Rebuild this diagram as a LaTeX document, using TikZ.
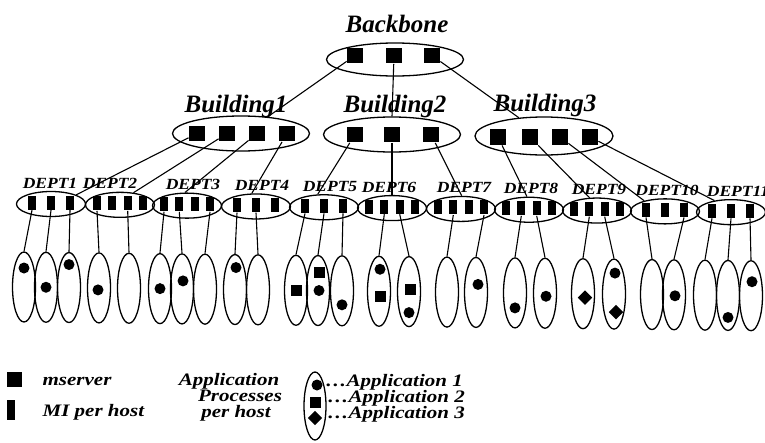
\documentclass[tikz,border=0pt]{standalone}
\usepackage{fontspec}
\setmainfont{Liberation Serif}
\newfontfamily\widedept[FakeStretch=1.13]{Liberation Serif}
\newfontfamily\widekey[FakeStretch=1.2]{Liberation Serif}
\usetikzlibrary{shapes.geometric,calc}
\begin{document}
\begin{tikzpicture}[x=1pt,y=-1pt,
  line width=1.3pt,
  ring/.style={draw, ellipse, inner sep=0pt},
  top/.style={ring, minimum width=137pt, minimum height=35pt},
  dept/.style={ring, minimum width=69pt, minimum height=25pt},
  host/.style={ring, minimum width=23pt, minimum height=70pt},
  srv/.style={fill, rectangle, draw=none, inner sep=0pt, minimum size=15.5pt},
  mi/.style={fill, rectangle, draw=none, inner sep=0pt, minimum width=8pt, minimum height=14pt},
  appA/.style={fill, circle, draw=none, inner sep=0pt, minimum size=11pt},
  appB/.style={fill, rectangle, draw=none, inner sep=0pt, minimum size=11pt},
  appC/.style={fill, diamond, draw=none, inner sep=0pt, minimum size=15pt},
  link/.style={draw, line width=1.1pt},
  big/.style={font=\fontsize{25}{25}\selectfont\bfseries\itshape, inner sep=0pt, anchor=base},
  small/.style={font=\widedept\fontsize{15.5}{15.5}\selectfont\bfseries\itshape, inner sep=0pt, anchor=base},
  legend/.style={font=\widekey\fontsize{17.5}{17.5}\selectfont\bfseries\itshape, inner sep=0pt, anchor=base west},
]
\useasboundingbox (0,0) rectangle (765,442);

% ---------- backbone ----------
\node[big] (bbl) at (397,32) {Backbone};
\node[top, minimum height=33pt] (bb) at (395,59.5) {};
\node[srv] (bb1) at (355,55.5) {};
\node[srv] (bb2) at (394,55.5) {};
\node[srv] (bb3) at (432,55.5) {};

% ---------- buildings ----------
\node[big] (b1l) at (236,112) {Building1};
\node[big] (b2l) at (395,112) {Building2};
\node[big] (b3l) at (545,111) {Building3};
\node[top] (b1) at (241,133.5) {};
\node[top] (b2) at (392,134.5) {};
\node[top, minimum width=138pt, minimum height=38pt] (b3) at (544,136) {};
\foreach \j/\x in {1/197,2/227,3/257,4/287} \node[srv] (b1s\j) at (\x,133.5) {};
\foreach \j/\x in {1/355,2/392,3/431} \node[srv] (b2s\j) at (\x,134.5) {};
\foreach \j/\x in {1/498,2/530,3/560,4/590} \node[srv] (b3s\j) at (\x,137) {};

% ---------- departments ----------
\foreach \i/\x/\n/\lx in {1/51/3/-1, 2/120/4/-10, 3/187/4/6, 4/256/3/6, 5/324/3/6,
    6/392/4/-3, 7/461/4/3, 8/529/4/2, 9/597/4/2, 10/665/3/2, 11/731/3/7}{
  \pgfmathsetmacro\y{204+0.012*(\x-51)}
  \node[small] (dl\i) at (\x+\lx,\y-16) {DEPT\i};
  \node[dept] (d\i) at (\x,\y) {};
  \ifnum\n=3
    \foreach \j/\o in {1/-19,2/0,3/19} \node[mi] (d\i-b\j) at (\x+\o,\y-1.5) {};
  \else
    \foreach \j/\o in {1/-23,2/-7.7,3/7.7,4/23} \node[mi] (d\i-b\j) at (\x+\o,\y-1.5) {};
  \fi
}

% ---------- hosts ----------
\foreach \k/\x in {1/24,2/46,3/69,4/99,5/129,6/160,7/182,8/205,9/235,10/258,
    11/296,12/318,13/342,14/379,15/409,16/447,17/476,18/515,19/545,20/583,
    21/614,22/652,23/674,24/705,25/728,26/751}{
  \pgfmathsetmacro\y{287+0.012*(\x-24)}
  \node[host] (h\k) at (\x,\y) {};
}

% application processes inside the hosts
\node[appA] (p1)  at ($(h1)+(0,-19)$) {};
\node[appA] (p2)  at ($(h2)+(0,0)$) {};
\node[appA] (p3)  at ($(h3)+(0,-23)$) {};
\node[appA] (p4)  at ($(h4)+(-1,2)$) {};
\node[appA] (p5)  at ($(h6)+(0,0)$) {};
\node[appA] (p6)  at ($(h7)+(1,-8)$) {};
\node[appA] (p7)  at ($(h9)+(1,-22)$) {};
\node[appB] (p8)  at ($(h11)+(0,0)$) {};
\node[appB] (p9)  at ($(h12)+(1,-18)$) {};
\node[appA] (p10) at ($(h12)+(1,0)$) {};
\node[appA] (p11) at ($(h13)+(0,14)$) {};
\node[appA] (p12) at ($(h14)+(1,-22)$) {};
\node[appB] (p13) at ($(h14)+(1,5)$) {};
\node[appB] (p14) at ($(h15)+(1,-2)$) {};
\node[appA] (p15) at ($(h15)+(0,21)$) {};
\node[appA] (p16) at ($(h17)+(2,-8)$) {};
\node[appA] (p17) at ($(h18)+(0,15)$) {};
\node[appA] (p18) at ($(h19)+(1,3)$) {};
\node[appC] (p19) at ($(h20)+(2,4)$) {};
\node[appA] (p20) at ($(h21)+(1,-21)$) {};
\node[appC] (p21) at ($(h21)+(2,18)$) {};
\node[appA] (p22) at ($(h23)+(1,1)$) {};
\node[appA] (p23) at ($(h25)+(0,22)$) {};
\node[appA] (p24) at ($(h26)+(1,-14)$) {};

% ---------- connectors ----------
\draw[link] (bb1) -- (b1.32);
\draw[link] (bb2) -- (b2.north);
\draw[link] (bb3) -- (b3.144);

\draw[link] (b1s1) -- (d1.20);
\draw[link] (b1s2) -- (d2.42);
\draw[link] (b1s3) -- (d3.99);
\draw[link] (b1s4) -- (d4.108);
\draw[link] (b2s1) -- (d5.116);
\draw[link] (b2s2) -- (d6.north);
\draw[link] (b2s3) -- (d7.87);
\draw[link] (b3s1) -- (d8.99);
\draw[link] (b3s2) -- (d9.120);
\draw[link] (b3s3) -- (d10.153);
\draw[link] (b3s4) -- (d11.145);

\foreach \a/\b in {d1-b1/h1, d1-b2/h2, d1-b3/h3, d2-b1/h4, d2-b3/h5,
    d3-b1/h6, d3-b2/h7, d3-b4/h8, d4-b1/h9, d4-b2/h10,
    d5-b1/h11, d5-b2/h12, d5-b3/h13, d6-b2/h14, d6-b3/h15,
    d7-b2/h16, d7-b4/h17, d8-b2/h18, d8-b3/h19, d9-b2/h20, d9-b3/h21,
    d10-b1/h22, d10-b3/h23, d11-b1/h24, d11-b2/h25, d11-b3/h26}
  \draw[link] (\a.south) -- (\b.north);

% ---------- legend ----------
\node[srv, minimum size=15pt] (ks) at (14,379) {};
\node[legend] (kst) at (42,385) {mserver};
\node[mi, minimum height=20pt] (km) at (11,410) {};
\node[legend] (kmt) at (42,416) {MI per host};
\node[legend, anchor=base] (kp1) at (229,385) {Application};
\node[legend, anchor=base] (kp2) at (240,401) {Processes};
\node[legend, anchor=base] (kp3) at (236,417) {per host};
\node[ring, minimum width=22pt, minimum height=68pt] (kh) at (315,406) {};
\node[appA] (ka) at (317,385) {};
\node[appB] (kb) at (315,402) {};
\node[appC] (kc) at (315,418) {};
\node[legend] (kat) at (325,386) {\ldots Application 1};
\node[legend] (kbt) at (327,402) {\ldots Application 2};
\node[legend] (kct) at (327,418) {\ldots Application 3};
\end{tikzpicture}
\end{document}
